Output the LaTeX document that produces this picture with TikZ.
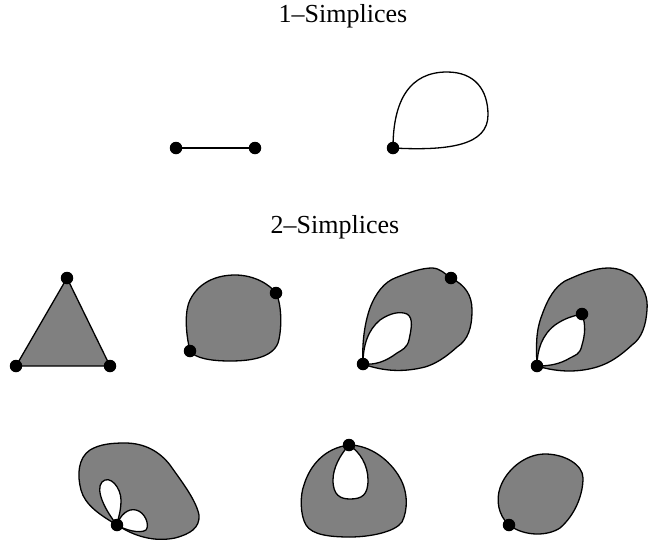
\documentclass[tikz,border=0pt]{standalone}
\usepackage{fontspec}
\setmainfont{Liberation Serif}
\usepackage{tikz}
\usetikzlibrary{positioning}

\begin{document}
\begin{tikzpicture}[
  x=1pt, y=-1pt,
  vertex/.style={circle, fill=black, inner sep=0pt, minimum size=12.5pt},
  title/.style={font=\fontsize{26}{31}\selectfont},
  face/.style={draw=black, fill=gray, line width=1.3pt},
  hole/.style={draw=black, fill=white, line width=1.3pt},
  edge/.style={draw=black, line width=1.3pt},
]
\useasboundingbox (0,0) rectangle (649,544);

% Titles
\node[title] (t1) at (343,16) {1--Simplices};
\node[title] (t2) at (335,227) {2--Simplices};

% 1-simplices: segment and loop
\node[vertex] (sa) at (176,148) {};
\node[vertex] (sb) at (255,148) {};
\node[vertex] (la) at (393,148) {};
\draw[edge] (sa) -- (sb);
\draw[edge] (la.center) .. controls (393,100) and (410,72) .. (447,72)
  .. controls (475,72) and (488,90) .. (488,115)
  .. controls (488,145) and (450,151) .. (la.center);

% 2-simplices (row 1)
\coordinate (ta) at (67,278);
\coordinate (tb) at (16,366);
\coordinate (tc) at (110,366);
\draw[face] (ta) -- (tb) -- (tc) -- cycle;

\coordinate (ba) at (190,351);
\coordinate (bb) at (276,293);
\draw[face] (ba) .. controls (185,330) and (185,310) .. (190,300)
  .. controls (200,280) and (220,275) .. (235,275)
  .. controls (255,275) and (270,285) .. (bb)
  .. controls (282,305) and (282,330) .. (278,343)
  .. controls (272,358) and (250,361) .. (230,361)
  .. controls (210,361) and (195,358) .. (ba);

\coordinate (ca) at (363,364);
\coordinate (cb) at (451,278);
\draw[face] (ca) .. controls (362,345) and (364,325) .. (370,308)
  .. controls (376,292) and (385,282) .. (395,278)
  .. controls (410,272) and (422,268) .. (432,268)
  .. controls (440,268) and (445,274) .. (cb)
  .. controls (465,285) and (472,295) .. (472,310)
  .. controls (472,328) and (468,340) .. (457,347)
  .. controls (445,358) and (435,364) .. (425,367)
  .. controls (405,372) and (385,372) .. (ca);
\draw[hole] (ca) .. controls (363,345) and (368,330) .. (380,320)
  .. controls (390,313) and (400,311) .. (407,314)
  .. controls (414,318) and (411,330) .. (409,340)
  .. controls (407,348) and (402,350) .. (397,353)
  .. controls (385,362) and (375,365) .. (ca);

\coordinate (da) at (537,366);
\coordinate (db) at (582,314);
\draw[face] (da) .. controls (536,345) and (536,330) .. (542,315)
  .. controls (548,298) and (555,287) .. (565,281)
  .. controls (580,274) and (595,268) .. (608,268)
  .. controls (620,268) and (625,272) .. (632,275)
  .. controls (645,288) and (648,298) .. (647,310)
  .. controls (646,325) and (642,338) .. (632,345)
  .. controls (620,356) and (610,363) .. (597,367)
  .. controls (580,372) and (560,373) .. (da);
\draw[hole] (da) .. controls (537,350) and (542,335) .. (555,325)
  .. controls (565,318) and (573,316) .. (db)
  .. controls (586,325) and (585,335) .. (582,345)
  .. controls (580,355) and (575,355) .. (570,358)
  .. controls (560,364) and (550,366) .. (da);

% 2-simplices (row 2)
\coordinate (ea) at (117,525);
\draw[face] (ea) .. controls (100,515) and (85,505) .. (81,490)
  .. controls (77,475) and (78,458) .. (90,450)
  .. controls (100,444) and (112,443) .. (125,443)
  .. controls (145,443) and (160,452) .. (170,465)
  .. controls (182,482) and (196,500) .. (199,515)
  .. controls (200,528) and (190,534) .. (175,538)
  .. controls (160,541) and (140,540) .. (ea);
\draw[hole] (ea) .. controls (105,510) and (95,490) .. (102,482)
  .. controls (110,474) and (121,488) .. (121,500)
  .. controls (121,512) and (118,518) .. (ea);
\draw[hole] (ea) .. controls (120,515) and (128,508) .. (136,510)
  .. controls (145,512) and (150,525) .. (146,530)
  .. controls (140,534) and (125,530) .. (ea);

\coordinate (fa) at (349,445);
\draw[face] (fa) .. controls (370,445) and (390,460) .. (400,478)
  .. controls (408,492) and (408,510) .. (402,522)
  .. controls (395,532) and (370,537) .. (350,537)
  .. controls (330,537) and (312,535) .. (306,525)
  .. controls (300,515) and (300,495) .. (304,485)
  .. controls (310,465) and (325,448) .. (fa);
\draw[hole] (fa) .. controls (340,455) and (333,468) .. (333,480)
  .. controls (333,495) and (340,499) .. (350,499)
  .. controls (362,499) and (368,495) .. (368,480)
  .. controls (368,465) and (360,452) .. (fa);

\coordinate (ga) at (509,525);
\draw[face] (ga) .. controls (498,515) and (496,500) .. (500,488)
  .. controls (506,470) and (525,454) .. (545,454)
  .. controls (565,454) and (583,465) .. (583,478)
  .. controls (583,495) and (575,515) .. (560,528)
  .. controls (548,536) and (525,537) .. (ga);

% Vertices
\foreach \p in {ta,tb,tc,ba,bb,ca,cb,da,db,ea,fa,ga}
  \node[vertex] (v\p) at (\p) {};

\end{tikzpicture}
\end{document}
